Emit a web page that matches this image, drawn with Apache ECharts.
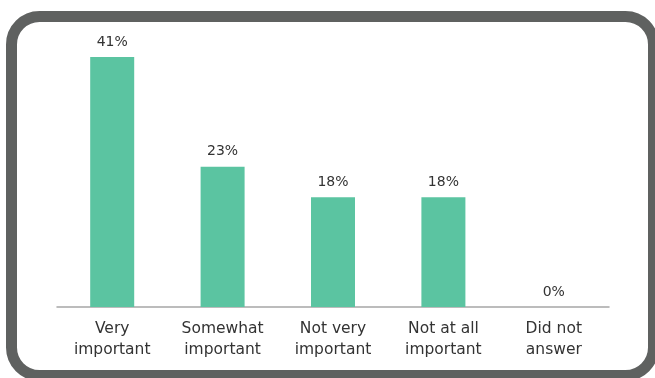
<!DOCTYPE html>
<html>
<head>
<meta charset="utf-8">
<script src="https://cdn.jsdelivr.net/npm/echarts@6/dist/echarts.min.js"></script>
<style>
  html, body { margin: 0; padding: 0; background: #ffffff; }
  #chart { width: 655px; height: 378px; }
</style>
</head>
<body>
<div id="chart"></div>
<script>
// Survey responses: share of respondents per importance rating
const categories = ['Very\nimportant', 'Somewhat\nimportant', 'Not very\nimportant', 'Not at all\nimportant', 'Did not\nanswer'];
const values = [41, 23, 18, 18, 0];

const FONT = '"DejaVu Sans", sans-serif';

const chart = echarts.init(document.getElementById('chart'), null, { renderer: 'canvas' });
chart.setOption({
  backgroundColor: '#ffffff',
  animation: false,
  grid: { left: 57, right: 46, top: 57, bottom: 71, containLabel: false },
  xAxis: {
    type: 'category',
    data: categories,
    axisLine: { lineStyle: { color: '#a6a6a6', width: 1.5 } },
    axisTick: { show: false },
    axisLabel: {
      color: '#333333',
      fontFamily: FONT,
      fontSize: 15.5,
      lineHeight: 21,
      margin: 11
    }
  },
  yAxis: {
    type: 'value',
    min: 0,
    max: 41,
    show: false,
    splitLine: { show: false }
  },
  series: [{
    type: 'bar',
    data: values,
    barWidth: 44,
    itemStyle: { color: '#5bc4a1' },
    label: {
      show: true,
      position: 'top',
      distance: 8,
      formatter: '{c}%',
      color: '#333333',
      fontFamily: FONT,
      fontSize: 14
    }
  }],
  graphic: [{
    type: 'rect',
    shape: { x: 11.5, y: 16.5, width: 642, height: 359, r: 28 },
    style: { fill: 'none', stroke: '#5f6160', lineWidth: 11 },
    silent: true
  }]
});
</script>
</body>
</html>
